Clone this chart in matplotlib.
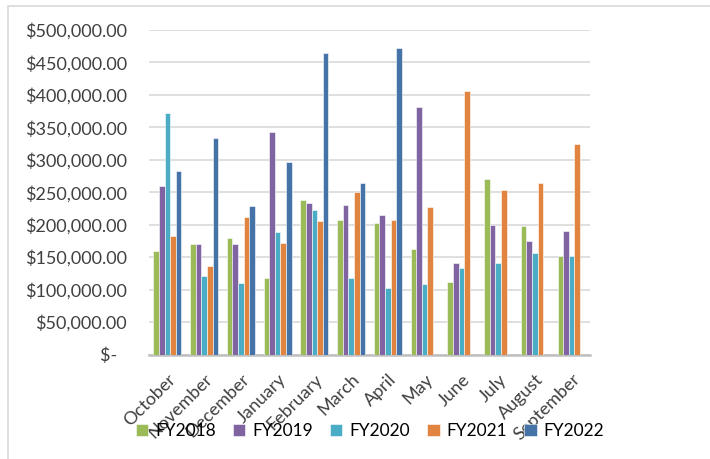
import matplotlib
matplotlib.use("Agg")
import matplotlib.pyplot as plt
import numpy as np
from matplotlib.patches import Rectangle

months = ["October", "November", "December", "January", "February", "March",
          "April", "May", "June", "July", "August", "September"]
series_names = ["FY2018", "FY2019", "FY2020", "FY2021", "FY2022"]
fy2018 = [160000, 171000, 179000, 118000, 238000, 207000, 202000, 163000, 111000, 271000, 198000, 152000]
fy2019 = [259000, 171000, 171000, 343000, 233000, 230000, 215000, 382000, 141000, 199000, 175000, 191000]
fy2020 = [372000, 121000, 110000, 189000, 223000, 118000, 102000, 108000, 133000, 141000, 157000, 152000]
fy2021 = [183000, 136000, 212000, 172000, 206000, 251000, 207000, 228000, 406000, 253000, 264000, 324000]
fy2022 = [283000, 333000, 229000, 297000, 464000, 264000, 472000, 0, 0, 0, 0, 0]
yticks = [0, 50000, 100000, 150000, 200000, 250000, 300000, 350000, 400000, 450000, 500000]
ytick_labels = ["$-  ", "$50,000.00", "$100,000.00", "$150,000.00", "$200,000.00",
                "$250,000.00", "$300,000.00", "$350,000.00", "$400,000.00", "$450,000.00",
                "$500,000.00"]
colors = ["#9BBB59", "#8064A2", "#4BACC6", "#E0843F", "#4573A8"]

plt.rcParams['font.family'] = ['Lato', 'DejaVu Sans']

fig = plt.figure(figsize=(7.1, 4.59), dpi=100)
W, H = 710, 459
ax = fig.add_axes([149 / W, 1 - 354.5 / H, (590 - 149) / W, (354.5 - 30) / H])

# outer chart border (left and top only visible)
fig.patches.append(Rectangle((8 / W, -0.1), 1.2, 1 - 6 / H + 0.1, transform=fig.transFigure,
                             fill=False, edgecolor="#D9D9D9", linewidth=1.2))

data = [fy2018, fy2019, fy2020, fy2021, fy2022]
x = np.arange(len(months))
bw = 0.152
for i, (vals, c, name) in enumerate(zip(data, colors, series_names)):
    ax.bar(x + (i - 2) * bw, vals, width=bw, color=c, edgecolor="white",
           linewidth=0.4, label=name, zorder=3)

ax.set_xlim(-0.5, len(months) - 0.5)
ax.set_ylim(0, 500000)
ax.set_yticks(yticks)
ax.set_yticklabels(ytick_labels, fontsize=13, color="#404040")
ax.set_xticks(x)
ax.set_xticklabels(months, rotation=45, ha="right", rotation_mode="anchor",
                   fontsize=13, color="#404040")
ax.tick_params(axis="both", length=0)
ax.tick_params(axis="y", pad=16)
ax.tick_params(axis="x", pad=12)
ax.grid(axis="y", color="#D9D9D9", linewidth=1.2, zorder=0)
for s in ["top", "right", "left"]:
    ax.spines[s].set_visible(False)
ax.spines["bottom"].set_color("#BFBFBF")
ax.spines["bottom"].set_linewidth(1.8)
ax.set_axisbelow(True)

leg = fig.legend(loc="center", bbox_to_anchor=(370 / W, 1 - 431 / H), ncol=5,
                 frameon=False, fontsize=12.5, handlelength=0.7, handleheight=0.7,
                 handletextpad=0.4, columnspacing=1.0)

fig.savefig("out.png", dpi=100)
